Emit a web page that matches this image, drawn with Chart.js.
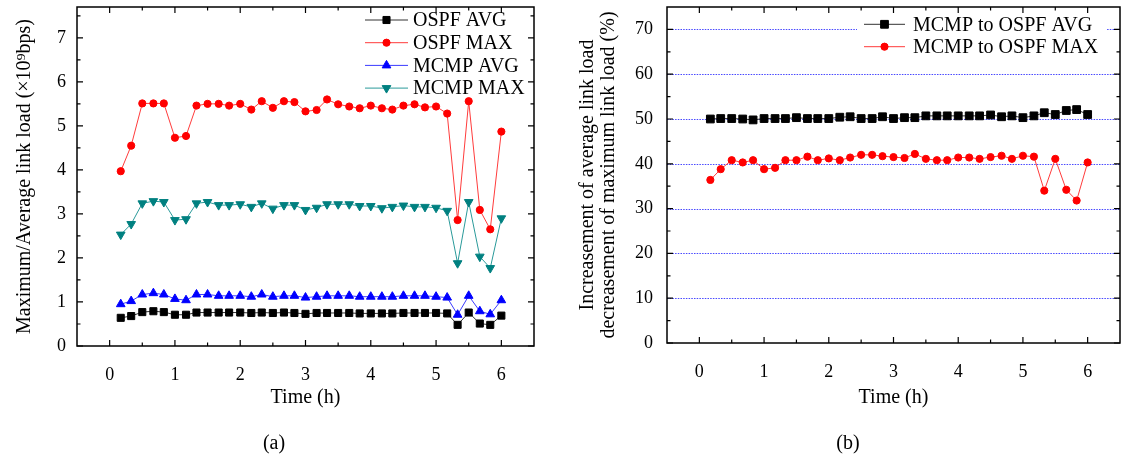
<!DOCTYPE html>
<html>
<head>
<meta charset="utf-8">
<script src="https://cdn.jsdelivr.net/npm/chart.js"></script>
<style>
  html, body { margin: 0; padding: 0; background: #ffffff; }
  body { width: 1121px; height: 454px; position: relative; overflow: hidden; font-family: 'Liberation Serif', 'Times New Roman', serif; }
  canvas { position: absolute; top: 0; }
  #ca { left: 0; }
  #cb { left: 560px; }
  .cap { position: absolute; font-size: 20px; line-height: 20px; transform: translate(-50%, -50%); color: #000; white-space: nowrap; }
</style>
</head>
<body>
<canvas id="ca" width="560" height="454"></canvas>
<canvas id="cb" width="561" height="454"></canvas>
<div class="cap" style="left:274px; top:442px;">(a)</div>
<div class="cap" style="left:848px; top:442px;">(b)</div>
<script>
// ---------------- DATA ----------------
const timeHours = [0.17,0.33,0.50,0.67,0.83,1.00,1.17,1.33,1.50,1.67,1.83,2.00,
                   2.17,2.33,2.50,2.67,2.83,3.00,3.17,3.33,3.50,3.67,3.83,4.00,
                   4.17,4.33,4.50,4.67,4.83,5.00,5.17,5.33,5.50,5.67,5.83,6.00];

const ospfAvg = [0.64,0.68,0.77,0.79,0.77,0.71,0.71,0.76,0.76,0.76,0.76,0.76,
                 0.75,0.76,0.75,0.76,0.75,0.73,0.75,0.75,0.75,0.75,0.74,0.74,
                 0.74,0.74,0.75,0.75,0.75,0.75,0.74,0.48,0.76,0.51,0.48,0.69];
const ospfMax = [3.97,4.55,5.51,5.51,5.51,4.73,4.77,5.46,5.50,5.50,5.46,5.50,
                 5.37,5.56,5.41,5.56,5.54,5.33,5.36,5.60,5.49,5.44,5.40,5.46,
                 5.40,5.37,5.46,5.49,5.42,5.44,5.28,2.86,5.56,3.09,2.65,4.87];
const mcmpAvg = [0.95,1.02,1.17,1.20,1.17,1.07,1.04,1.17,1.17,1.14,1.14,1.14,
                 1.12,1.17,1.12,1.14,1.14,1.10,1.12,1.14,1.14,1.14,1.12,1.12,
                 1.12,1.12,1.14,1.14,1.14,1.12,1.10,0.71,1.14,0.79,0.72,1.04];
const mcmpMax = [2.53,2.77,3.24,3.29,3.27,2.86,2.88,3.24,3.27,3.20,3.20,3.22,
                 3.16,3.24,3.12,3.20,3.20,3.09,3.14,3.22,3.22,3.22,3.18,3.18,
                 3.13,3.16,3.19,3.16,3.16,3.14,3.07,1.88,3.27,2.03,1.77,2.90];

const avgIncrease = [50.0,50.1,50.1,50.0,49.8,50.1,50.1,50.1,50.3,50.1,50.1,50.1,
                     50.4,50.5,50.1,50.1,50.5,50.1,50.3,50.3,50.7,50.7,50.7,50.7,
                     50.7,50.7,50.9,50.5,50.7,50.3,50.7,51.4,51.0,51.9,52.1,51.0];
const maxDecrease = [36.4,38.8,40.8,40.3,40.8,38.8,39.1,40.8,40.8,41.6,40.8,41.2,
                     40.8,41.4,42.0,42.0,41.7,41.5,41.3,42.2,41.1,40.8,40.8,41.4,
                     41.4,41.1,41.5,41.8,41.1,41.8,41.6,34.0,41.1,34.2,31.8,40.3];

const xMajorTicks = [0,1,2,3,4,5,6];
const xMinorTicks = [0.5,1.5,2.5,3.5,4.5,5.5];
const yMajorTicksA = [0,1,2,3,4,5,6,7];
const yMinorTicksA = [0.5,1.5,2.5,3.5,4.5,5.5,6.5,7.5];
const yMajorTicksB = [0,10,20,30,40,50,60,70];
const yMinorTicksB = [5,15,25,35,45,55,65];
const yGridB = [10,20,30,40,50,60,70];

// ---------------- HELPERS ----------------
const FONT = "'Liberation Serif', 'Times New Roman', serif";
Chart.defaults.color = '#000';
Chart.defaults.font.family = FONT;

function pts(ys) { return ys.map((v, i) => ({x: timeHours[i], y: v})); }

function drawMarker(ctx, style, rot, r, x, y) {
  if (Chart.helpers && Chart.helpers.drawPoint) {
    Chart.helpers.drawPoint(ctx, {pointStyle: style, rotation: rot || 0, radius: r, borderWidth: 1}, x, y);
    return;
  }
  ctx.beginPath();
  if (style === 'rect') { const s = r * Math.SQRT1_2; ctx.rect(x - s, y - s, 2 * s, 2 * s); }
  else if (style === 'triangle') {
    const d = rot ? -1 : 1;
    ctx.moveTo(x, y - d * r); ctx.lineTo(x - r * 0.866, y + d * r / 2); ctx.lineTo(x + r * 0.866, y + d * r / 2); ctx.closePath();
  } else { ctx.arc(x, y, r, 0, Math.PI * 2); }
  ctx.fill(); ctx.stroke();
}

const axesPlugin = {
  id: 'axesFrame',
  beforeDatasetsDraw(chart, args, o) {
    if (!o.grid) return;
    const {ctx, chartArea: a, scales: {y}} = chart;
    ctx.save();
    ctx.strokeStyle = 'rgba(40,40,255,0.85)';
    ctx.lineWidth = 1;
    ctx.setLineDash([1.5, 1.2]);
    o.grid.forEach(v => {
      const p = Math.round(y.getPixelForValue(v)) + 0.5;
      ctx.beginPath(); ctx.moveTo(a.left, p); ctx.lineTo(a.right, p); ctx.stroke();
    });
    ctx.restore();
  },
  afterDatasetsDraw(chart, args, o) {
    const {ctx, chartArea: a, scales: {x, y}} = chart;
    ctx.save();
    // legend
    const L = o.legend;
    if (L.bg) { ctx.fillStyle = '#fff'; ctx.fillRect(L.bg[0], L.bg[1], L.bg[2], L.bg[3]); }
    ctx.font = L.font + 'px ' + FONT;
    ctx.textBaseline = 'middle';
    ctx.textAlign = 'left';
    chart.data.datasets.forEach((ds, k) => {
      const yy = L.y0 + k * L.dy;
      ctx.strokeStyle = ds.borderColor; ctx.lineWidth = 1;
      ctx.beginPath(); ctx.moveTo(L.x0, yy); ctx.lineTo(L.x1, yy); ctx.stroke();
      ctx.fillStyle = ds.pointBackgroundColor; ctx.strokeStyle = ds.pointBorderColor;
      drawMarker(ctx, ds.pointStyle, ds.pointRotation, ds.pointRadius, (L.x0 + L.x1) / 2, yy);
      ctx.fillStyle = '#000';
      ctx.fillText(ds.label, L.tx, yy + 1);
    });
    // frame
    ctx.strokeStyle = '#000';
    ctx.lineWidth = 1.5;
    ctx.strokeRect(a.left, a.top, a.right - a.left, a.bottom - a.top);
    // ticks
    ctx.lineWidth = 1.2;
    ctx.beginPath();
    const xt = (vals, len) => vals.forEach(v => {
      const p = x.getPixelForValue(v);
      ctx.moveTo(p, a.bottom); ctx.lineTo(p, a.bottom - len);
      ctx.moveTo(p, a.top); ctx.lineTo(p, a.top + len);
    });
    const yt = (vals, len) => vals.forEach(v => {
      const p = y.getPixelForValue(v);
      ctx.moveTo(a.left, p); ctx.lineTo(a.left + len, p);
      ctx.moveTo(a.right, p); ctx.lineTo(a.right - len, p);
    });
    xt(o.xMajor, 6); xt(o.xMinor, 3.5);
    yt(o.yMajor, 6); yt(o.yMinor, 3.5);
    ctx.stroke();
    ctx.restore();
  }
};

function ds(label, data, color, lineColor, style, radius, rot) {
  return {
    label, data: pts(data),
    borderColor: lineColor, borderWidth: 1,
    pointBackgroundColor: color, pointBorderColor: color, pointBorderWidth: 1,
    pointStyle: style, pointRadius: radius, pointRotation: rot || 0, pointHoverRadius: radius,
    tension: 0, fill: false
  };
}

function makeChart(id, datasets, cfg) {
  return new Chart(document.getElementById(id), {
    type: 'line',
    data: {datasets},
    plugins: [axesPlugin],
    options: {
      responsive: false, animation: false, devicePixelRatio: 1,
      layout: {padding: cfg.padding, autoPadding: false},
      plugins: {
        legend: {display: false}, tooltip: {enabled: false},
        axesFrame: {legend: cfg.legend, grid: cfg.grid, xMajor: xMajorTicks, xMinor: xMinorTicks, yMajor: cfg.yMajor, yMinor: cfg.yMinor}
      },
      scales: {
        x: {
          type: 'linear', min: -0.5, max: 6.5,
          grid: {display: false}, border: {display: false},
          afterBuildTicks: s => { s.ticks = xMajorTicks.map(v => ({value: v})); },
          afterFit: s => { s.height = cfg.xH; s.paddingLeft = 0; s.paddingRight = 0; },
          ticks: {font: {size: 18, family: FONT}, padding: 10, maxRotation: 0, autoSkip: false, color: '#000'},
          title: {display: true, text: 'Time (h)', font: {size: 20, family: FONT, lineHeight: 1.2}, padding: {top: 0, bottom: 0}, color: '#000'}
        },
        y: {
          type: 'linear', min: 0, max: cfg.yMax,
          grid: {display: false}, border: {display: false},
          afterBuildTicks: s => { s.ticks = cfg.yMajor.map(v => ({value: v})); },
          afterFit: s => { s.width = cfg.yW; s.paddingTop = 0; s.paddingBottom = 0; },
          ticks: {font: {size: 18, family: FONT}, padding: cfg.yPad, color: '#000'},
          title: {display: true, text: cfg.yTitle, font: {size: 20, family: FONT, lineHeight: cfg.yLH}, padding: {top: cfg.yTitlePad, bottom: 0}, color: '#000'}
        }
      }
    }
  });
}

// ---------------- CHART (a) ----------------
makeChart('ca', [
  ds('OSPF AVG', ospfAvg, '#000000', '#333333', 'rect', 5),
  ds('OSPF MAX', ospfMax, '#ff0000', '#ff3b3b', 'circle', 3.6),
  ds('MCMP AVG', mcmpAvg, '#0000ff', '#3b3bff', 'triangle', 5),
  ds('MCMP MAX', mcmpMax, '#008080', '#2a9a9a', 'triangle', 5, 180)
], {
  padding: {left: 0, top: 7, right: 26, bottom: 44},
  xH: 64, yW: 77, yPad: 3, yMax: 7.7,
  yMajor: yMajorTicksA, yMinor: yMinorTicksA,
  yTitle: 'Maximum/Average link load (×10⁹bps)', yLH: 1.2, yTitlePad: 13,
  legend: {x0: 365, x1: 408, tx: 413, y0: 20, dy: 22.7, font: 20}
});

// ---------------- CHART (b) ----------------
makeChart('cb', [
  ds('MCMP to OSPF AVG', avgIncrease, '#000000', '#333333', 'rect', 5.5),
  ds('MCMP to OSPF MAX', maxDecrease, '#ff0000', '#ff3b3b', 'circle', 3.6)
], {
  padding: {left: 0, top: 7, right: 1, bottom: 44},
  xH: 67, yW: 107, yPad: 6, yMax: 75,
  yMajor: yMajorTicksB, yMinor: yMinorTicksB, grid: yGridB,
  yTitle: ['Increasement of average link load', 'decreasement of maximum link load (%)'], yLH: 1.05, yTitlePad: 17.5,
  legend: {x0: 304, x1: 345, tx: 353, y0: 24.3, dy: 22.4, font: 20, bg: [297, 11, 249, 50]}
});
</script>
</body>
</html>
